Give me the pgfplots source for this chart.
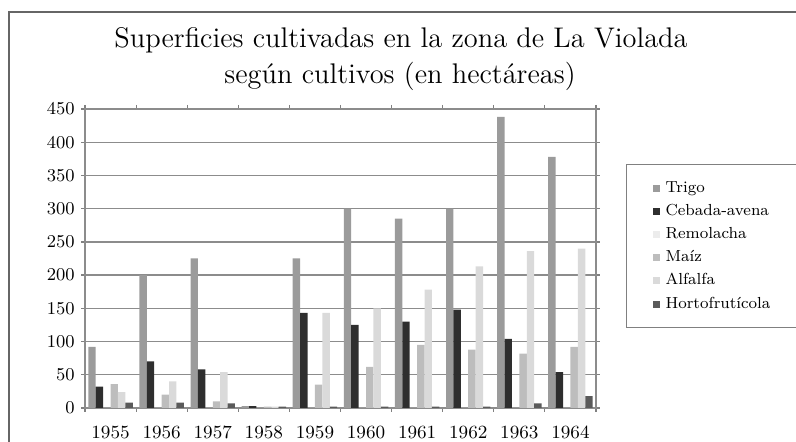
\documentclass[border=0pt]{standalone}
\usepackage{pgfplots}
\pgfplotsset{compat=1.18}
\definecolor{cTrigo}{HTML}{9B9B9B}
\definecolor{cCebada}{HTML}{2E2E2E}
\definecolor{cRemo}{HTML}{ECECEC}
\definecolor{cMaiz}{HTML}{BDBDBD}
\definecolor{cAlf}{HTML}{DADADA}
\definecolor{cHorto}{HTML}{5A5A5A}
\begin{document}
\begin{tikzpicture}
\draw[line width=1pt, black!60] (4.5pt,-5pt) -- (4.5pt,215pt) -- (405pt,215pt);
\node[anchor=base, inner sep=0pt] at (200.5pt,197pt) {\fontsize{14.2}{17}\selectfont Superficies cultivadas en la zona de La Violada};
\node[anchor=base, inner sep=0pt] at (200pt,179pt) {\fontsize{14.2}{17}\selectfont según cultivos (en hectáreas)};
\begin{axis}[
  at={(42.5pt,17pt)}, anchor=south west,
  scale only axis, width=255.5pt, height=149.5pt,
  ybar=0pt, bar width=0.145,
  xmin=-0.5, xmax=9.5, ymin=0, ymax=450,
  ytick={0,50,...,450},
  xtick={0,...,9},
  xticklabels={1955,1956,1957,1958,1959,1960,1961,1962,1963,1964},
  minor xtick={-0.5,0.5,...,9.5},
  major x tick style={draw=none},
  minor x tick style={black!50, line width=0.6pt},
  minor tick length=2pt,
  y tick style={black!50, line width=0.7pt},
  major tick length=2pt,
  tick align=outside,
  ymajorgrids,
  grid style={black!45, line width=0.7pt},
  axis line style={black!45, line width=0.7pt},
  ticklabel style={font=\fontsize{9.3}{10}\selectfont},
  yticklabel style={inner xsep=0pt, xshift=-3pt},
  xticklabel style={yshift=-3.5pt},
  legend style={at={(1.0587,0.8161)}, anchor=north west, draw=black!50, line width=0.6pt,
    font=\fontsize{8}{9}\selectfont, inner xsep=13pt, inner ysep=7pt,
    nodes={inner sep=1pt, text height=5.8pt, text depth=1.8pt},
    row sep=2pt, column sep=2pt},
  legend cell align=left,
  legend image code/.code={\fill[#1] (0pt,-1.75pt) rectangle (3.5pt,1.75pt);},
]
\addplot[fill=cTrigo, draw=none] coordinates {(0,92) (1,200) (2,225) (3,3) (4,225) (5,300) (6,285) (7,300) (8,438) (9,378)};
\addplot[fill=cCebada, draw=none] coordinates {(0,32) (1,70) (2,58) (3,3) (4,143) (5,125) (6,130) (7,148) (8,104) (9,54)};
\addplot[fill=cRemo, draw=none] coordinates {(0,0) (1,0) (2,0) (3,0) (4,0) (5,0) (6,0) (7,0) (8,0) (9,0)};
\addplot[fill=cMaiz, draw=none] coordinates {(0,36) (1,20) (2,10) (3,2) (4,35) (5,62) (6,95) (7,88) (8,82) (9,92)};
\addplot[fill=cAlf, draw=none] coordinates {(0,24) (1,40) (2,54) (3,2) (4,143) (5,150) (6,178) (7,213) (8,236) (9,240)};
\addplot[fill=cHorto, draw=none] coordinates {(0,8) (1,8) (2,7) (3,2) (4,2) (5,2) (6,2) (7,2) (8,7) (9,18)};
\legend{Trigo, Cebada-avena, Remolacha, Maíz, Alfalfa, Hortofrutícola}
\end{axis}
\pgfresetboundingbox
\path[use as bounding box] (0pt,0pt) rectangle (398pt,221pt);
\end{tikzpicture}
\end{document}
